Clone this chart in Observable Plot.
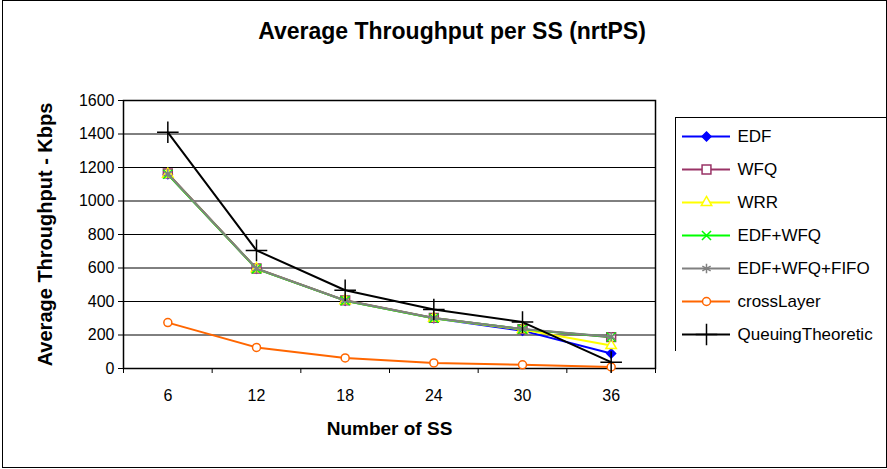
<!DOCTYPE html>
<html><head><meta charset="utf-8">
<script src="https://cdn.jsdelivr.net/npm/d3@7"></script>
<script src="https://cdn.jsdelivr.net/npm/@observablehq/plot@0.6"></script>
<style>
body{margin:0;background:#fff;font-family:"Liberation Sans",Arial,sans-serif;}
#wrap{position:relative;width:887px;height:469px;overflow:hidden;background:#fff;}
#border{position:absolute;left:2px;top:0;width:885px;height:468px;border:1px solid #000;box-sizing:border-box;}
#chart{position:absolute;left:0;top:0;}
#title{position:absolute;left:0;width:904px;top:18px;text-align:center;font-weight:bold;font-size:23px;color:#000;}
#legend{position:absolute;left:675px;top:117px;}
</style></head><body>
<div id="wrap"><div id="border"></div><div id="chart"></div><div id="title">Average Throughput per SS (nrtPS)</div><div id="legend"></div></div>
<script>
const ssCounts = [6, 12, 18, 24, 30, 36];
const edf        = [1160, 595, 405, 300, 226, 90];
const wfq        = [1165, 597, 407, 302, 235, 187];
const wrr        = [1160, 595, 405, 300, 233, 137];
const edfWfq     = [1160, 595, 405, 300, 235, 188];
const edfWfqFifo = [1162, 596, 406, 301, 236, 189];
const crossLayer = [274, 126, 63, 33, 22, 9];
const queuing    = [1410, 705, 467, 352, 277, 38];
const seriesNames = ["EDF", "WFQ", "WRR", "EDF+WFQ", "EDF+WFQ+FIFO", "crossLayer", "QueuingTheoretic"];
const seriesValues = [edf, wfq, wrr, edfWfq, edfWfqFifo, crossLayer, queuing];
const yTicks = [0, 200, 400, 600, 800, 1000, 1200, 1400, 1600];
const xBounds = [3, 9, 15, 21, 27, 33, 39];

const colors  = ["#0000FF", "#993366", "#FFFF00", "#00FF00", "#808080", "#FF6600", "#000000"];
const symbols = ["diamond2", "square", "triangle2", "times", "asterisk", "circle", "plus"];
const fills   = ["#0000FF", "white", "white", "none", "none", "white", "none"];
const radii   = [4, 5, 5, 4.2, 4.5, 4, 7];

const rows = seriesNames.flatMap((name, i) => ssCounts.map((ss, j) => ({series: name, ss, value: seriesValues[i][j]})));

const marks = [
  Plot.gridY(yTicks, {stroke: "#000", strokeOpacity: 1, strokeWidth: 1}),
  Plot.frame({stroke: "#000", strokeWidth: 1.5}),
  Plot.axisY(yTicks, {tickSize: 5, tickPadding: 4, fontSize: 16, label: null, stroke: "#000", tickFormat: d => String(d)}),
  Plot.axisX(ssCounts, {tickSize: 0, tickPadding: 21, fontSize: 16, label: null, tickFormat: d => String(d)}),
  Plot.axisX(xBounds, {tickSize: 5, tickFormat: () => "", label: null, stroke: "#000"}),
  Plot.text(["Average Throughput - Kbps"], {frameAnchor: "left", textAnchor: "middle", dx: -78, rotate: -90, text: d => d, fontWeight: "bold", fontSize: 20}),
  Plot.text(["Number of SS"], {frameAnchor: "bottom", textAnchor: "middle", dy: 66, text: d => d, fontWeight: "bold", fontSize: 19})
];
seriesNames.forEach((name, i) => {
  const data = rows.filter(r => r.series === name);
  marks.push(Plot.line(data, {x: "ss", y: "value", stroke: colors[i], strokeWidth: 2}));
  marks.push(Plot.dot(data, {x: "ss", y: "value", symbol: () => symbols[i], r: radii[i], stroke: colors[i], fill: fills[i], strokeWidth: 1.5}));
});

const chart = Plot.plot({
  width: 887, height: 469,
  marginLeft: 123, marginRight: 232, marginTop: 100, marginBottom: 101,
  x: {domain: [3, 39], axis: null},
  y: {domain: [0, 1600], axis: null},
  symbol: {type: "identity"},
  style: {fontFamily: "Liberation Sans, Arial, sans-serif", fontSize: "16px", color: "#000", background: "transparent"},
  marks
});
document.getElementById("chart").appendChild(chart);

const legendMarks = [Plot.frame({stroke: "#000", strokeWidth: 1})];
seriesNames.forEach((name, i) => {
  legendMarks.push(Plot.ruleY([name], {x1: 0, x2: 1, y: d => d, stroke: colors[i], strokeWidth: 2}));
  legendMarks.push(Plot.dot([name], {x: 0.5, y: d => d, symbol: () => symbols[i], r: radii[i], stroke: colors[i], fill: fills[i], strokeWidth: 1.5}));
});
legendMarks.push(Plot.text(seriesNames, {x: 1, y: d => d, text: d => d, dx: 7, textAnchor: "start", fontSize: 17, fill: "#000"}));

const legend = Plot.plot({
  width: 212, height: 234, margin: 0,
  x: {domain: [0, 1], range: [7, 55], axis: null},
  y: {type: "point", domain: seriesNames, range: [18, 218], padding: 0, axis: null},
  symbol: {type: "identity"},
  style: {fontFamily: "Liberation Sans, Arial, sans-serif", fontSize: "16px", color: "#000", background: "transparent"},
  marks: legendMarks
});
document.getElementById("legend").appendChild(legend);
</script>
</body></html>
